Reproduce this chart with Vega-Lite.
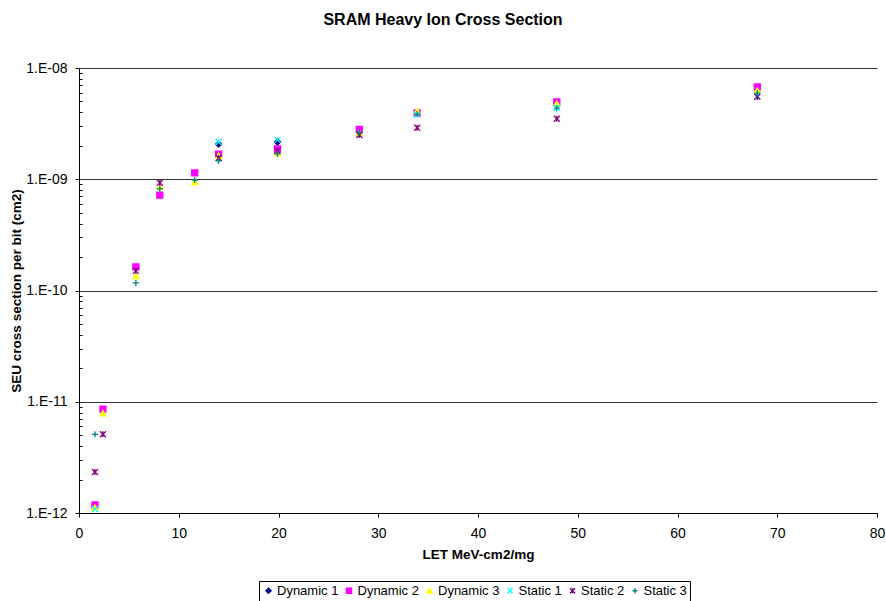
{
  "$schema": "https://vega.github.io/schema/vega-lite/v6.json",
  "autosize": {"type": "none"},
  "width": 798,
  "height": 445,
  "padding": {"left": 79, "top": 68, "right": 9, "bottom": 88},
  "background": "white",
  "title": {
    "text": "SRAM Heavy Ion Cross Section",
    "font": "Liberation Sans",
    "fontSize": 16,
    "fontWeight": "bold",
    "color": "black",
    "anchor": "middle",
    "dx": -35,
    "offset": 33
  },
  "config": {
    "view": {"stroke": null},
    "font": "Liberation Sans"
  },
  "data": {
    "values": [
      {"series": "Dynamic 1", "let": 14.0, "xs": 2.07e-9},
      {"series": "Dynamic 1", "let": 19.9, "xs": 2.16e-9},
      {"series": "Dynamic 2", "let": 1.6, "xs": 1.18e-12},
      {"series": "Dynamic 2", "let": 2.4, "xs": 8.6e-12},
      {"series": "Dynamic 2", "let": 5.7, "xs": 1.63e-10},
      {"series": "Dynamic 2", "let": 8.1, "xs": 7.2e-10},
      {"series": "Dynamic 2", "let": 11.6, "xs": 1.14e-9},
      {"series": "Dynamic 2", "let": 14.0, "xs": 1.68e-9},
      {"series": "Dynamic 2", "let": 19.9, "xs": 1.87e-9},
      {"series": "Dynamic 2", "let": 28.1, "xs": 2.8e-9},
      {"series": "Dynamic 2", "let": 33.9, "xs": 3.95e-9},
      {"series": "Dynamic 2", "let": 47.9, "xs": 4.95e-9},
      {"series": "Dynamic 2", "let": 68.0, "xs": 6.75e-9},
      {"series": "Dynamic 3", "let": 1.6, "xs": 1.12e-12},
      {"series": "Dynamic 3", "let": 2.4, "xs": 7.9e-12},
      {"series": "Dynamic 3", "let": 5.7, "xs": 1.35e-10},
      {"series": "Dynamic 3", "let": 8.1, "xs": 8.5e-10},
      {"series": "Dynamic 3", "let": 11.6, "xs": 9.45e-10},
      {"series": "Dynamic 3", "let": 14.0, "xs": 1.63e-9},
      {"series": "Dynamic 3", "let": 19.9, "xs": 1.72e-9},
      {"series": "Dynamic 3", "let": 28.1, "xs": 2.6e-9},
      {"series": "Dynamic 3", "let": 33.9, "xs": 4.1e-9},
      {"series": "Dynamic 3", "let": 47.9, "xs": 4.8e-9},
      {"series": "Dynamic 3", "let": 68.0, "xs": 6.3e-9},
      {"series": "Static 1", "let": 1.6, "xs": 1.08e-12},
      {"series": "Static 1", "let": 14.0, "xs": 2.16e-9},
      {"series": "Static 1", "let": 19.9, "xs": 2.26e-9},
      {"series": "Static 1", "let": 33.9, "xs": 3.8e-9},
      {"series": "Static 1", "let": 47.9, "xs": 4.4e-9},
      {"series": "Static 1", "let": 68.0, "xs": 5.6e-9},
      {"series": "Static 2", "let": 1.6, "xs": 2.34e-12},
      {"series": "Static 2", "let": 2.4, "xs": 5.1e-12},
      {"series": "Static 2", "let": 5.7, "xs": 1.5e-10},
      {"series": "Static 2", "let": 8.1, "xs": 9.3e-10},
      {"series": "Static 2", "let": 14.0, "xs": 1.55e-9},
      {"series": "Static 2", "let": 19.9, "xs": 1.8e-9},
      {"series": "Static 2", "let": 28.1, "xs": 2.5e-9},
      {"series": "Static 2", "let": 33.9, "xs": 2.9e-9},
      {"series": "Static 2", "let": 47.9, "xs": 3.5e-9},
      {"series": "Static 2", "let": 68.0, "xs": 5.5e-9},
      {"series": "Static 3", "let": 1.6, "xs": 5.1e-12},
      {"series": "Static 3", "let": 5.7, "xs": 1.17e-10},
      {"series": "Static 3", "let": 8.1, "xs": 8.2e-10},
      {"series": "Static 3", "let": 11.6, "xs": 9.85e-10},
      {"series": "Static 3", "let": 14.0, "xs": 1.46e-9},
      {"series": "Static 3", "let": 19.9, "xs": 1.69e-9},
      {"series": "Static 3", "let": 28.1, "xs": 2.65e-9},
      {"series": "Static 3", "let": 33.9, "xs": 3.85e-9},
      {"series": "Static 3", "let": 47.9, "xs": 4.35e-9},
      {"series": "Static 3", "let": 68.0, "xs": 5.95e-9}
    ]
  },
  "mark": {"type": "point", "filled": true, "size": 36, "strokeWidth": 1.3, "opacity": 1},
  "encoding": {
    "x": {
      "field": "let",
      "type": "quantitative",
      "scale": {"domain": [0, 80], "nice": false, "zero": false},
      "axis": {
        "values": [0, 10, 20, 30, 40, 50, 60, 70, 80],
        "title": "LET MeV-cm2/mg",
        "titleFont": "Liberation Sans",
        "titleFontSize": 13.5,
        "titleFontWeight": "bold",
        "titleColor": "black",
        "titlePadding": 7,
        "labelFont": "Liberation Sans",
        "labelFontSize": 14,
        "labelColor": "black",
        "labelPadding": 9,
        "labelFlush": false,
        "domainColor": "black",
        "tickColor": "black",
        "tickSize": 4,
        "grid": false
      }
    },
    "y": {
      "field": "xs",
      "type": "quantitative",
      "scale": {"type": "log", "domain": [1e-12, 1e-8], "nice": false},
      "axis": {
        "values": [1e-12, 2e-12, 3e-12, 4e-12, 5e-12, 6e-12, 7e-12, 8e-12, 9e-12,
                   1e-11, 2e-11, 3e-11, 4e-11, 5e-11, 6e-11, 7e-11, 8e-11, 9e-11,
                   1e-10, 2e-10, 3e-10, 4e-10, 5e-10, 6e-10, 7e-10, 8e-10, 9e-10,
                   1e-9, 2e-9, 3e-9, 4e-9, 5e-9, 6e-9, 7e-9, 8e-9, 9e-9, 1e-8],
        "labelExpr": "abs(log(datum.value)/LN10 - round(log(datum.value)/LN10)) < 0.001 ? '1.E-' + (round(-log(datum.value)/LN10) < 10 ? '0' : '') + round(-log(datum.value)/LN10) : ''",
        "title": "SEU cross section per bit (cm2)",
        "titleFont": "Liberation Sans",
        "titleFontSize": 13.5,
        "titleFontWeight": "bold",
        "titleColor": "black",
        "titlePadding": 2,
        "labelFont": "Liberation Sans",
        "labelFontSize": 14,
        "labelColor": "black",
        "labelPadding": 8,
        "labelFlush": false,
        "domainColor": "black",
        "tickColor": "black",
        "tickSize": {"condition": {"test": "abs(log(datum.value)/LN10 - round(log(datum.value)/LN10)) < 0.001", "value": 4}, "value": -3},
        "grid": true,
        "gridColor": "#333333",
        "gridWidth": 1,
        "gridOpacity": {"condition": {"test": "abs(log(datum.value)/LN10 - round(log(datum.value)/LN10)) < 0.001", "value": 1}, "value": 0}
      }
    },
    "color": {
      "field": "series",
      "type": "nominal",
      "scale": {
        "domain": ["Dynamic 1", "Dynamic 2", "Dynamic 3", "Static 1", "Static 2", "Static 3"],
        "range": ["#000080", "#FF00FF", "#FFFF00", "#00FFFF", "#800080", "#008080"]
      },
      "legend": {
        "orient": "none",
        "legendX": 180,
        "legendY": 513,
        "direction": "horizontal",
        "columns": 6,
        "title": null,
        "strokeColor": "black",
        "padding": 3,
        "columnPadding": 3.5,
        "labelFont": "Liberation Sans",
        "labelFontSize": 13,
        "labelColor": "black",
        "symbolSize": 25,
        "labelOffset": 2
      }
    },
    "stroke": {
      "field": "series",
      "type": "nominal",
      "scale": {
        "domain": ["Dynamic 1", "Dynamic 2", "Dynamic 3", "Static 1", "Static 2", "Static 3"],
        "range": ["#000080", "#FF00FF", "#FFFF00", "#00FFFF", "#800080", "#008080"]
      }
    },
    "shape": {
      "field": "series",
      "type": "nominal",
      "scale": {
        "domain": ["Dynamic 1", "Dynamic 2", "Dynamic 3", "Static 1", "Static 2", "Static 3"],
        "range": ["diamond", "square", "triangle-up", "M-1,-1L1,1M-1,1L1,-1", "M-1,-1L1,1M-1,1L1,-1M0,-1L0,1", "M-1,0L1,0M0,-1L0,1"]
      }
    }
  }
}
